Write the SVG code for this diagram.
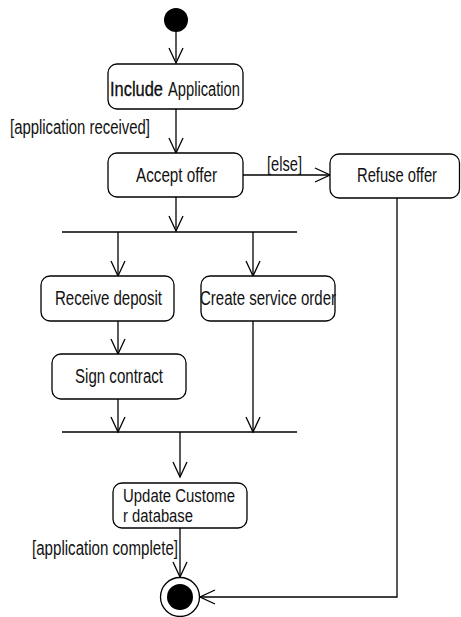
<svg xmlns="http://www.w3.org/2000/svg" width="461" height="617" viewBox="0 0 461 617">
<style>
.box{fill:#fff;stroke:#000;stroke-width:1.3}
.ln{fill:none;stroke:#000;stroke-width:1.3}
.t{font-family:"Liberation Sans Narrow","Liberation Sans",Arial,sans-serif;font-size:19.5px;fill:#111}
.s{font-size:17.5px}
</style>
<defs>
<marker id="arr" markerUnits="userSpaceOnUse" markerWidth="18" markerHeight="18" viewBox="-16 -9 18 18" refX="0" refY="0" orient="auto">
<path d="M-15,-7 L0,0 L-15,7" fill="none" stroke="#000" stroke-width="1.3"/>
</marker>
</defs>
<rect width="461" height="617" fill="#fff"/>
<g id="connectors">
<line class="ln" x1="176" y1="32" x2="176" y2="63" marker-end="url(#arr)"/>
<line class="ln" x1="176" y1="109" x2="176" y2="153" marker-end="url(#arr)"/>
<line class="ln" x1="243" y1="175" x2="330" y2="175" marker-end="url(#arr)"/>
<line class="ln" x1="176" y1="197" x2="176" y2="231" marker-end="url(#arr)"/>
<line class="ln" x1="118" y1="232" x2="118" y2="276" marker-end="url(#arr)"/>
<line class="ln" x1="253" y1="232" x2="253" y2="276" marker-end="url(#arr)"/>
<line class="ln" x1="118" y1="321" x2="118" y2="354" marker-end="url(#arr)"/>
<line class="ln" x1="118" y1="399" x2="118" y2="432" marker-end="url(#arr)"/>
<line class="ln" x1="253" y1="321" x2="253" y2="432" marker-end="url(#arr)"/>
<line class="ln" x1="180" y1="432" x2="180" y2="477" marker-end="url(#arr)"/>
<line class="ln" x1="180" y1="528" x2="180" y2="577" marker-end="url(#arr)"/>
<polyline class="ln" points="397,198 397,597 200,597" marker-end="url(#arr)"/>
<text class="t" x="10" y="134" textLength="140" lengthAdjust="spacingAndGlyphs">[application received]</text>
<text class="t" x="267" y="171" textLength="35" lengthAdjust="spacingAndGlyphs">[else]</text>
<text class="t" x="32" y="555" textLength="146" lengthAdjust="spacingAndGlyphs">[application complete]</text>
</g>
<g id="start"><circle cx="176" cy="20" r="12" fill="#000"/></g>
<g id="include"><rect class="box" x="108" y="64" width="135" height="45" rx="9"/>
<text class="t" x="110" y="96" textLength="53" lengthAdjust="spacingAndGlyphs" stroke="#000" stroke-width="0.3">Include</text>
<text class="t" x="168" y="96" textLength="72" lengthAdjust="spacingAndGlyphs">Application</text></g>
<g id="accept"><rect class="box" x="108" y="153" width="135" height="44" rx="9"/>
<text class="t" x="136" y="182" textLength="81" lengthAdjust="spacingAndGlyphs">Accept offer</text></g>
<g id="refuse"><rect class="box" x="330" y="154" width="129.5" height="44" rx="9"/>
<text class="t" x="357" y="182" textLength="80" lengthAdjust="spacingAndGlyphs">Refuse offer</text></g>
<g id="fork"><line x1="62" y1="232" x2="297" y2="232" stroke="#000" stroke-width="1.5"/></g>
<g id="receive"><rect class="box" x="41" y="276" width="133" height="45" rx="9"/>
<text class="t" x="55" y="305" textLength="107" lengthAdjust="spacingAndGlyphs">Receive deposit</text></g>
<g id="create"><rect class="box" x="201" y="276" width="134" height="45" rx="9"/>
<text class="t" x="200" y="305" textLength="136" lengthAdjust="spacingAndGlyphs">Create service order</text></g>
<g id="sign"><rect class="box" x="52" y="354" width="134" height="45" rx="9"/>
<text class="t" x="75" y="383" textLength="88" lengthAdjust="spacingAndGlyphs">Sign contract</text></g>
<g id="join"><line x1="62" y1="432" x2="297" y2="432" stroke="#000" stroke-width="1.5"/></g>
<g id="update"><rect class="box" x="113" y="483" width="134" height="45" rx="9"/>
<text class="t s" x="123" y="502" textLength="112" lengthAdjust="spacingAndGlyphs">Update Custome</text>
<text class="t s" x="123" y="522" textLength="70" lengthAdjust="spacingAndGlyphs">r database</text></g>
<g id="final"><circle cx="180" cy="597" r="19.5" fill="#fff" stroke="#000" stroke-width="1.3"/>
<circle cx="180" cy="597" r="13" fill="#000"/></g>
</svg>
